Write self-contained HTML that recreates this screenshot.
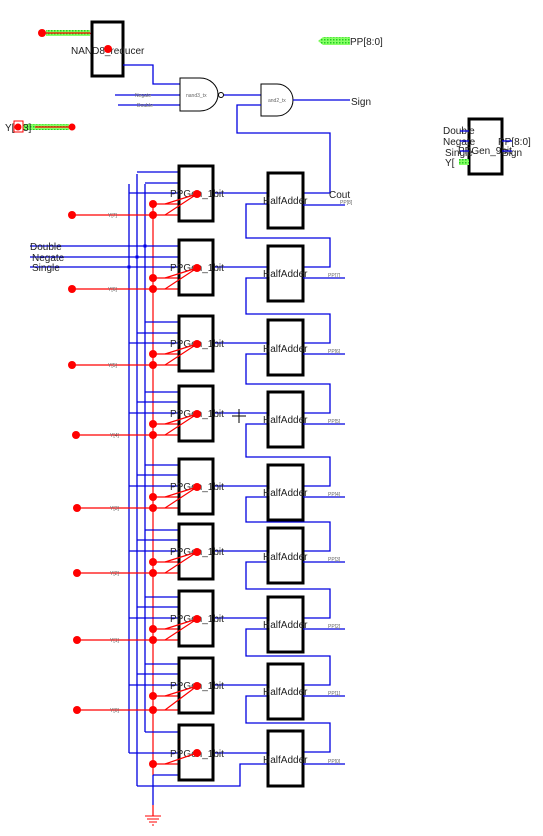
<!DOCTYPE html>
<html><head><meta charset="utf-8"><style>
html,body{margin:0;padding:0;background:#fff;}
svg{display:block;font-family:"Liberation Sans",sans-serif;}
.b{stroke:#0000e0;stroke-width:1.3;fill:none}
.r{stroke:#ff0000;stroke-width:1.2;fill:none}
.box{fill:#fff;stroke:#000;stroke-width:3}
.lbl{font-size:10px;fill:#222}
.tiny{font-size:5px;fill:#666}
.rd{fill:#ff0000}
.g{fill:#66ff44}
</style></head><body>
<svg width="543" height="836" viewBox="0 0 543 836" xmlns="http://www.w3.org/2000/svg">
<defs>
<pattern id="h" width="3" height="3" patternUnits="userSpaceOnUse"><rect width="3" height="3" fill="#88ff66"/><rect width="1.5" height="1.5" fill="#22cc22"/></pattern>
</defs>

<!-- top section -->
<rect x="46" y="30" width="44" height="6" fill="url(#h)"/>
<line x1="42" y1="33" x2="90" y2="33" class="r"/>
<line x1="90" y1="33" x2="108" y2="49" class="r"/>
<circle cx="42" cy="33" r="4" class="rd"/>
<rect x="92" y="22" width="31" height="54" class="box"/>
<text x="71" y="54" class="lbl">NAND8_reducer</text>
<circle cx="108" cy="49" r="4" class="rd"/>
<polyline points="123,65 153,65 153,84 180,84" class="b"/>
<line x1="115" y1="95" x2="180" y2="95" class="b"/>
<line x1="118" y1="105" x2="180" y2="105" class="b"/>
<text x="135" y="97" class="tiny">Negate</text>
<text x="137" y="107" class="tiny">Double</text>
<path d="M180,78 H200 A18,16.5 0 0 1 200,111 H180 Z" fill="#fff" stroke="#000" stroke-width="1"/>
<text x="186" y="97" class="tiny">nand3_tx</text>
<circle cx="221" cy="95" r="2.5" fill="#fff" stroke="#000" stroke-width="1"/>
<line x1="224" y1="95" x2="261" y2="95" class="b"/>
<path d="M261,84 H277 A16,16 0 0 1 277,116 H261 Z" fill="#fff" stroke="#000" stroke-width="1"/>
<text x="268" y="102" class="tiny">and2_tx</text>
<line x1="293" y1="100" x2="350" y2="100" class="b"/>
<text x="351" y="105" class="lbl">Sign</text>
<polyline points="303,193 330,193 330,133 237,133 237,105 261,105" class="b"/>
<text x="329" y="198" class="lbl">Cout</text>

<polygon points="318,41 323,37 350,37 350,45 323,45" fill="url(#h)"/>
<text x="350" y="45" class="lbl">PP[8:0]</text>

<text x="5" y="131" class="lbl">Y[</text>
<rect x="23" y="124" width="46" height="6" fill="url(#h)"/>
<line x1="35" y1="127" x2="72" y2="127" class="r"/>
<rect x="14" y="121" width="9" height="11" fill="none" stroke="#ff0000" stroke-width="1"/>
<circle cx="18" cy="127" r="3.5" class="rd"/>
<text x="23" y="131" class="lbl">3]</text>
<circle cx="72" cy="127" r="3.5" class="rd"/>

<!-- right symbol -->
<rect x="469" y="119" width="33" height="55" class="box"/>
<text x="443" y="134" class="lbl">Double</text>
<text x="443" y="145" class="lbl">Negate</text>
<text x="445" y="156" class="lbl">Single</text>
<text x="445" y="166" class="lbl">Y[</text>
<rect x="459" y="159" width="10" height="6" fill="url(#h)"/>
<text x="458" y="154" class="lbl">PPGen_9bit</text>
<text x="498" y="145" class="lbl">PP[8:0]</text>
<text x="502" y="156" class="lbl">Sign</text>
<line x1="460" y1="131" x2="469" y2="131" class="b"/>
<line x1="460" y1="141" x2="469" y2="141" class="b"/>
<line x1="460" y1="151" x2="469" y2="151" class="b"/>
<line x1="502" y1="141" x2="512" y2="141" class="b"/>
<line x1="502" y1="151" x2="512" y2="151" class="b"/>

<!-- buses -->
<line x1="129" y1="184" x2="129" y2="753" class="b"/>
<line x1="137" y1="174" x2="137" y2="786" class="b"/>
<line x1="145" y1="184" x2="145" y2="732" class="b"/>
<line x1="153" y1="204" x2="153" y2="775" class="r"/>
<line x1="30" y1="246" x2="145" y2="246" class="b"/>
<line x1="30" y1="257" x2="137" y2="257" class="b"/>
<line x1="30" y1="267" x2="129" y2="267" class="b"/>
<text x="30" y="250" class="lbl">Double</text>
<text x="32" y="261" class="lbl">Negate</text>
<text x="32" y="271" class="lbl">Single</text>
<rect x="143.5" y="244.5" width="3" height="3" fill="#00e"/>
<rect x="135.5" y="255.5" width="3" height="3" fill="#00e"/>
<rect x="127.5" y="265.5" width="3" height="3" fill="#00e"/>

<!-- carry chain -->
<polyline points="303,267 330,267 330,238 246,238 246,204 268,204" class="b"/>
<polyline points="303,343 330,343 330,314 246,314 246,278 268,278" class="b"/>
<polyline points="303,413 330,413 330,384 246,384 246,354 268,354" class="b"/>
<polyline points="303,486 330,486 330,457 246,457 246,424 268,424" class="b"/>
<polyline points="303,551 330,551 330,522 246,522 246,497 268,497" class="b"/>
<polyline points="303,618 330,618 330,589 246,589 246,562 268,562" class="b"/>
<polyline points="303,685 330,685 330,656 246,656 246,629 268,629" class="b"/>
<polyline points="303,752 330,752 330,723 246,723 246,696 268,696" class="b"/>
<polyline points="137,786 240,786 240,764 268,764" class="b"/>

<!-- rows 1-8 -->
<g transform="translate(0,166)">
<line x1="137" y1="6" x2="179" y2="6" class="b"/><line x1="145" y1="17" x2="179" y2="17" class="b"/><line x1="129" y1="27" x2="179" y2="27" class="b"/>
<line x1="213" y1="27" x2="268" y2="27" class="b"/>
<line x1="72" y1="49" x2="179" y2="49" class="r"/><line x1="153" y1="38" x2="179" y2="38" class="r"/>
<rect x="179" y="0" width="34" height="55" class="box"/>
<text x="170" y="31" class="lbl">PPGen_1bit</text>
<polyline points="165,38 197,28 165,49" class="r"/>
<circle cx="197" cy="28" r="4" class="rd"/><circle cx="153" cy="38" r="4" class="rd"/><circle cx="153" cy="49" r="4" class="rd"/><circle cx="72" cy="49" r="4" class="rd"/>
<text x="108" y="51" class="tiny">Y[7]</text>
<rect x="268" y="7" width="35" height="55" class="box"/>
<text x="263" y="38" class="lbl">HalfAdder</text>
<line x1="303" y1="39" x2="345" y2="39" class="b"/><text x="340" y="38" class="tiny">PP[8]</text>
</g>
<g transform="translate(0,240)">
<line x1="145" y1="6" x2="179" y2="6" class="b"/><line x1="137" y1="17" x2="179" y2="17" class="b"/><line x1="129" y1="27" x2="179" y2="27" class="b"/>
<line x1="213" y1="27" x2="268" y2="27" class="b"/>
<line x1="72" y1="49" x2="179" y2="49" class="r"/><line x1="153" y1="38" x2="179" y2="38" class="r"/>
<rect x="179" y="0" width="34" height="55" class="box"/>
<text x="170" y="31" class="lbl">PPGen_1bit</text>
<polyline points="165,38 197,28 165,49" class="r"/>
<circle cx="197" cy="28" r="4" class="rd"/><circle cx="153" cy="38" r="4" class="rd"/><circle cx="153" cy="49" r="4" class="rd"/><circle cx="72" cy="49" r="4" class="rd"/>
<text x="108" y="51" class="tiny">Y[6]</text>
<rect x="268" y="6" width="35" height="55" class="box"/>
<text x="263" y="37" class="lbl">HalfAdder</text>
<line x1="303" y1="38" x2="345" y2="38" class="b"/><text x="328" y="37" class="tiny">PP[7]</text>
</g>
<g transform="translate(0,316)">
<line x1="145" y1="6" x2="179" y2="6" class="b"/><line x1="137" y1="17" x2="179" y2="17" class="b"/><line x1="129" y1="27" x2="179" y2="27" class="b"/>
<line x1="213" y1="27" x2="268" y2="27" class="b"/>
<line x1="72" y1="49" x2="179" y2="49" class="r"/><line x1="153" y1="38" x2="179" y2="38" class="r"/>
<rect x="179" y="0" width="34" height="55" class="box"/>
<text x="170" y="31" class="lbl">PPGen_1bit</text>
<polyline points="165,38 197,28 165,49" class="r"/>
<circle cx="197" cy="28" r="4" class="rd"/><circle cx="153" cy="38" r="4" class="rd"/><circle cx="153" cy="49" r="4" class="rd"/><circle cx="72" cy="49" r="4" class="rd"/>
<text x="108" y="51" class="tiny">Y[5]</text>
<rect x="268" y="4" width="35" height="55" class="box"/>
<text x="263" y="36" class="lbl">HalfAdder</text>
<line x1="303" y1="38" x2="345" y2="38" class="b"/><text x="328" y="37" class="tiny">PP[6]</text>
</g>
<g transform="translate(0,386)">
<line x1="145" y1="6" x2="179" y2="6" class="b"/><line x1="137" y1="16" x2="179" y2="16" class="b"/><line x1="129" y1="27" x2="179" y2="27" class="b"/>
<line x1="213" y1="27" x2="268" y2="27" class="b"/>
<line x1="77" y1="49" x2="179" y2="49" class="r"/><line x1="153" y1="38" x2="179" y2="38" class="r"/>
<rect x="179" y="0" width="34" height="55" class="box"/>
<text x="170" y="31" class="lbl">PPGen_1bit</text>
<polyline points="165,38 197,28 165,49" class="r"/>
<circle cx="197" cy="28" r="4" class="rd"/><circle cx="153" cy="38" r="4" class="rd"/><circle cx="153" cy="49" r="4" class="rd"/><circle cx="76" cy="49" r="4" class="rd"/>
<text x="110" y="51" class="tiny">Y[4]</text>
<rect x="268" y="6" width="35" height="55" class="box"/>
<text x="263" y="37" class="lbl">HalfAdder</text>
<line x1="303" y1="38" x2="345" y2="38" class="b"/><text x="328" y="37" class="tiny">PP[5]</text>
<path d="M232,30 H246 M239,23 V37" stroke="#000" stroke-width="1"/>
</g>
<g transform="translate(0,459)">
<line x1="145" y1="6" x2="179" y2="6" class="b"/><line x1="137" y1="16" x2="179" y2="16" class="b"/><line x1="129" y1="27" x2="179" y2="27" class="b"/>
<line x1="213" y1="27" x2="268" y2="27" class="b"/>
<line x1="77" y1="49" x2="179" y2="49" class="r"/><line x1="153" y1="38" x2="179" y2="38" class="r"/>
<rect x="179" y="0" width="34" height="55" class="box"/>
<text x="170" y="31" class="lbl">PPGen_1bit</text>
<polyline points="165,38 197,28 165,49" class="r"/>
<circle cx="197" cy="28" r="4" class="rd"/><circle cx="153" cy="38" r="4" class="rd"/><circle cx="153" cy="49" r="4" class="rd"/><circle cx="77" cy="49" r="4" class="rd"/>
<text x="110" y="51" class="tiny">Y[3]</text>
<rect x="268" y="6" width="35" height="55" class="box"/>
<text x="263" y="37" class="lbl">HalfAdder</text>
<line x1="303" y1="38" x2="345" y2="38" class="b"/><text x="328" y="37" class="tiny">PP[4]</text>
</g>
<g transform="translate(0,524)">
<line x1="145" y1="6" x2="179" y2="6" class="b"/><line x1="137" y1="16" x2="179" y2="16" class="b"/><line x1="129" y1="27" x2="179" y2="27" class="b"/>
<line x1="213" y1="27" x2="268" y2="27" class="b"/>
<line x1="77" y1="49" x2="179" y2="49" class="r"/><line x1="153" y1="38" x2="179" y2="38" class="r"/>
<rect x="179" y="0" width="34" height="55" class="box"/>
<text x="170" y="31" class="lbl">PPGen_1bit</text>
<polyline points="165,38 197,28 165,49" class="r"/>
<circle cx="197" cy="28" r="4" class="rd"/><circle cx="153" cy="38" r="4" class="rd"/><circle cx="153" cy="49" r="4" class="rd"/><circle cx="77" cy="49" r="4" class="rd"/>
<text x="110" y="51" class="tiny">Y[2]</text>
<rect x="268" y="4" width="35" height="55" class="box"/>
<text x="263" y="36" class="lbl">HalfAdder</text>
<line x1="303" y1="38" x2="345" y2="38" class="b"/><text x="328" y="37" class="tiny">PP[3]</text>
</g>
<g transform="translate(0,591)">
<line x1="145" y1="6" x2="179" y2="6" class="b"/><line x1="137" y1="16" x2="179" y2="16" class="b"/><line x1="129" y1="27" x2="179" y2="27" class="b"/>
<line x1="213" y1="27" x2="268" y2="27" class="b"/>
<line x1="77" y1="49" x2="179" y2="49" class="r"/><line x1="153" y1="38" x2="179" y2="38" class="r"/>
<rect x="179" y="0" width="34" height="55" class="box"/>
<text x="170" y="31" class="lbl">PPGen_1bit</text>
<polyline points="165,38 197,28 165,49" class="r"/>
<circle cx="197" cy="28" r="4" class="rd"/><circle cx="153" cy="38" r="4" class="rd"/><circle cx="153" cy="49" r="4" class="rd"/><circle cx="77" cy="49" r="4" class="rd"/>
<text x="110" y="51" class="tiny">Y[1]</text>
<rect x="268" y="6" width="35" height="55" class="box"/>
<text x="263" y="37" class="lbl">HalfAdder</text>
<line x1="303" y1="38" x2="345" y2="38" class="b"/><text x="328" y="37" class="tiny">PP[2]</text>
</g>
<g transform="translate(0,658)">
<line x1="145" y1="6" x2="179" y2="6" class="b"/><line x1="137" y1="16" x2="179" y2="16" class="b"/><line x1="129" y1="27" x2="179" y2="27" class="b"/>
<line x1="213" y1="27" x2="268" y2="27" class="b"/>
<line x1="77" y1="52" x2="179" y2="52" class="r"/><line x1="153" y1="38" x2="179" y2="38" class="r"/>
<rect x="179" y="0" width="34" height="55" class="box"/>
<text x="170" y="31" class="lbl">PPGen_1bit</text>
<polyline points="165,38 197,28 165,52" class="r"/>
<circle cx="197" cy="28" r="4" class="rd"/><circle cx="153" cy="38" r="4" class="rd"/><circle cx="153" cy="52" r="4" class="rd"/><circle cx="77" cy="52" r="4" class="rd"/>
<text x="110" y="54" class="tiny">Y[0]</text>
<rect x="268" y="6" width="35" height="55" class="box"/>
<text x="263" y="37" class="lbl">HalfAdder</text>
<line x1="303" y1="38" x2="345" y2="38" class="b"/><text x="328" y="37" class="tiny">PP[1]</text>
</g>
<!-- row 9 -->
<g transform="translate(0,725)">
<line x1="145" y1="7" x2="179" y2="7" class="b"/>
<line x1="129" y1="28" x2="268" y2="28" class="b"/>
<line x1="153" y1="39" x2="179" y2="39" class="r"/>
<line x1="153" y1="50" x2="179" y2="50" class="b"/>
<rect x="179" y="0" width="34" height="55" class="box"/>
<text x="170" y="32" class="lbl">PPGen_1bit</text>
<line x1="165" y1="39" x2="197" y2="28" class="r"/>
<circle cx="197" cy="28" r="4" class="rd"/><circle cx="153" cy="39" r="4" class="rd"/>
<rect x="268" y="6" width="35" height="55" class="box"/>
<text x="263" y="38" class="lbl">HalfAdder</text>
<line x1="303" y1="39" x2="345" y2="39" class="b"/><text x="328" y="38" class="tiny">PP[0]</text>
</g>
<!-- ground -->
<line x1="153" y1="775" x2="153" y2="805" class="b"/>
<line x1="153" y1="805" x2="153" y2="816" class="r"/>
<path d="M145,816 H161 M147,819 H159 M149,822 H157 M152,825 H154" stroke="#ff0000" stroke-width="1"/>
</svg>
</body></html>
